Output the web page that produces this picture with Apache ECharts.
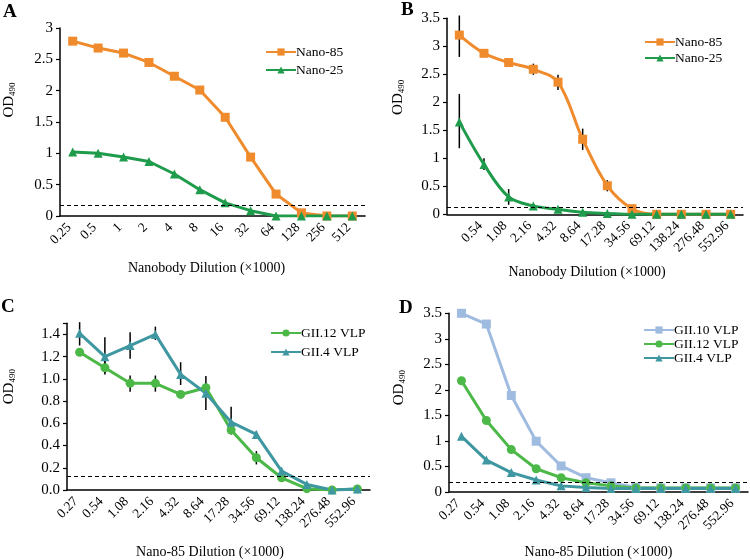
<!DOCTYPE html>
<html><head><meta charset="utf-8">
<script src="https://cdn.jsdelivr.net/npm/echarts@6/dist/echarts.min.js"></script>
<style>html,body{margin:0;padding:0;background:#fff}#c{width:750px;height:560px}</style>
</head><body><div id="c"></div>
<script>
// ---- data ----
const catsA = ['0.25','0.5','1','2','4','8','16','32','64','128','256','512'];
const catsB = ['0.27','0.54','1.08','2.16','4.32','8.64','17.28','34.56','69.12','138.24','276.48','552.96'];
const catsCD = ['0.27','0.54','1.08','2.16','4.32','8.64','17.28','34.56','69.12','138.24','276.48','552.96'];

const aNano85 = [2.79,2.68,2.60,2.45,2.23,2.01,1.575,0.94,0.35,0.05,0,0];
const aNano25 = [1.02,1.00,0.94,0.87,0.67,0.42,0.21,0.085,0,0,0,0];
const aCutoff = 0.165;

const bNano85 = [3.20,2.875,2.71,2.59,2.36,1.34,0.51,0.10,0,0,0,0];
const bNano25 = [1.65,0.89,0.31,0.15,0.09,0.035,0.015,0,0,0,0,0];
const bNano85Err = [[0,2.81,3.55],[3,2.49,2.69],[4,2.22,2.49],[5,1.15,1.53],[6,0.41,0.61]];
const bNano25Err = [[0,1.18,2.15],[1,0.79,1.00],[2,0.17,0.45]];
const bCutoff = 0.115;

const cGII12 = [1.24,1.10,0.96,0.96,0.86,0.92,0.54,0.29,0.11,0.012,0,0.01];
const cGII4 = [1.41,1.20,1.30,1.40,1.04,0.87,0.61,0.50,0.17,0.05,0,0.01];
const cGII12Err = [[1,1.04,1.16],[2,0.885,1.03],[3,0.885,1.03],[7,0.23,0.35]];
const cGII4Err = [[0,1.30,1.51],[1,1.05,1.375],[2,1.18,1.42],[3,1.35,1.47],[4,0.945,1.15],[5,0.72,1.025],[6,0.50,0.75],[7,0.47,0.53]];
const cCutoff = 0.12;

const dGII10 = [3.50,3.29,1.89,0.995,0.51,0.28,0.18,0.09,0.08,0.08,0.08,0.08];
const dGII12 = [2.18,1.40,0.83,0.455,0.28,0.18,0.12,0.08,0.08,0.08,0.08,0.08];
const dGII4 = [1.09,0.625,0.38,0.235,0.12,0.09,0.07,0.07,0.07,0.07,0.07,0.07];
const dCutoff = 0.195;

// ---- styling ----
const FONT = 'Liberation Serif';
const ORANGE = '#EF8B2C', DGREEN = '#1E9B4B', LGREEN = '#4CB847', TEAL = '#3E97A1', LBLUE = '#9FBBE0';

const grids = [
  {left:50, top:28, width:315, height:188},
  {left:447, top:18.3, width:296, height:196},
  {left:57, top:323.3, width:313, height:167.4},
  {left:449, top:313.3, width:299, height:179.4}
];

function xAxis(gi, cats, name, gap, padR, hideFirst){
  return {
    type:'category', gridIndex:gi, data:cats, boundaryGap:true,
    axisLine:{lineStyle:{color:'#000', width:1.5}},
    axisTick:{alignWithLabel:true, length:4, lineStyle:{color:'#000', width:1.2}},
    axisLabel:{rotate:45, color:'#000', fontFamily:FONT, fontSize:13.5, margin:6, interval:0,
      padding:[0,5,12,0],
      formatter:(v,i)=> (hideFirst && i===0) ? '' : v},
    name:name, nameLocation:'middle', nameGap:gap,
    nameTextStyle:{color:'#000', fontFamily:FONT, fontSize:14, padding:[0,padR,0,0]}
  };
}
function yAxis(gi, max, interval, gap, padL, fmt){
  return {
    type:'value', gridIndex:gi, min:0, max:max, interval:interval,
    splitLine:{show:false},
    axisLine:{show:true, lineStyle:{color:'#000', width:1.5}},
    axisTick:{show:true, length:4, lineStyle:{color:'#000', width:1.2}},
    axisLabel:{color:'#000', fontFamily:FONT, fontSize:15, margin:7, formatter:fmt},
    name:'{a|OD}{b|490}', nameLocation:'middle', nameGap:gap, nameRotate:90,
    nameTextStyle:{color:'#000', fontFamily:FONT, fontSize:15, padding:[0,0,0,padL], rich:{
      a:{fontFamily:FONT, fontSize:15, color:'#000', lineHeight:18},
      b:{fontFamily:FONT, fontSize:9, color:'#000', lineHeight:18, padding:[7,0,0,0]}
    }}
  };
}
function lineS(name, gi, data, color, symbol, smooth, cutoff){
  const s = {
    name:name, type:'line', xAxisIndex:gi, yAxisIndex:gi, data:data,
    smooth:smooth, symbol:symbol, symbolSize:9,
    lineStyle:{color:color, width:3}, itemStyle:{color:color}, z:3
  };
  if (cutoff !== undefined) {
    s.markLine = {silent:true, symbol:'none', label:{show:false},
      lineStyle:{color:'#000', type:[4,3], width:1.2}, data:[{yAxis:cutoff}]};
  }
  return s;
}
function errS(gi, data){
  return {
    type:'custom', xAxisIndex:gi, yAxisIndex:gi, data:data, z:2, silent:true,
    encode:{x:0, y:[1,2]},
    renderItem:(params, api)=>{
      const p1 = api.coord([api.value(0), api.value(1)]);
      const p2 = api.coord([api.value(0), api.value(2)]);
      return {type:'line', shape:{x1:p1[0], y1:p1[1], x2:p2[0], y2:p2[1]},
        style:{stroke:'#000', lineWidth:1.5}};
    }
  };
}
const legendBase = (left, top, data, gap) => ({
  left:left, top:top, orient:'vertical', data:data, itemGap:gap, padding:0,
  itemWidth:30, itemHeight:9, selectedMode:false,
  textStyle:{fontFamily:FONT, fontSize:13.5, color:'#000', padding:[0,0,0,-5]}
});
const letter = (t, x, y) => ({text:t, left:x, top:y, padding:0,
  textStyle:{fontFamily:FONT, fontSize:19, fontWeight:'bold', color:'#000'}});

const option = {
  animation:false,
  title:[letter('A',3,3), letter('B',401,1), letter('C',1,298), letter('D',399,299)],
  grid:grids,
  legend:[
    legendBase(265, 45, ['Nano-85','Nano-25'], 4),
    legendBase(644, 35, ['Nano-85','Nano-25'], 2),
    legendBase(270, 326, ['GII.12 VLP','GII.4 VLP'], 5),
    legendBase(643, 323, ['GII.10 VLP','GII.12 VLP','GII.4 VLP'], 0)
  ],
  xAxis:[
    xAxis(0, catsA, 'Nanobody Dilution (×1000)', 45, 12, false),
    xAxis(1, catsB, 'Nanobody Dilution (×1000)', 51, 16, true),
    xAxis(2, catsCD, 'Nano-85 Dilution (×1000)', 55, 17, false),
    xAxis(3, catsCD, 'Nano-85 Dilution (×1000)', 53, 0, false)
  ],
  yAxis:[
    yAxis(0, 3, 0.5, 42, 44),
    yAxis(1, 3.5, 0.5, 40, 38),
    yAxis(2, 1.5, 0.2, 49, 40, v => v > 1.45 ? '' : v.toFixed(1)),
    yAxis(3, 3.5, 0.5, 41, 30)
  ],
  series:[
    lineS('Nano-85', 0, aNano85, ORANGE, 'rect', false, aCutoff),
    lineS('Nano-25', 0, aNano25, DGREEN, 'triangle', false),
    errS(1, bNano85Err), errS(1, bNano25Err),
    lineS('Nano-85', 1, bNano85, ORANGE, 'rect', 0.35, bCutoff),
    lineS('Nano-25', 1, bNano25, DGREEN, 'triangle', 0.35),
    errS(2, cGII12Err), errS(2, cGII4Err),
    lineS('GII.12 VLP', 2, cGII12, LGREEN, 'circle', false, cCutoff),
    lineS('GII.4 VLP', 2, cGII4, TEAL, 'triangle', false),
    lineS('GII.10 VLP', 3, dGII10, LBLUE, 'rect', false, dCutoff),
    lineS('GII.12 VLP', 3, dGII12, LGREEN, 'circle', false),
    lineS('GII.4 VLP', 3, dGII4, TEAL, 'triangle', false)
  ]
};
const chart = echarts.init(document.getElementById('c'), null, {renderer:'canvas'});
chart.setOption(option);
</script></body></html>
